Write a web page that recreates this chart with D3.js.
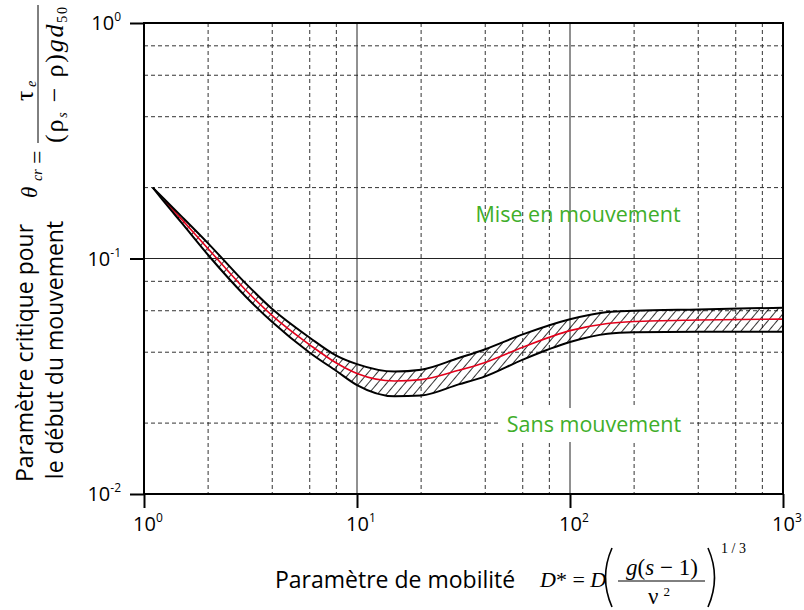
<!DOCTYPE html>
<html>
<head>
<meta charset="utf-8">
<script src="https://cdn.jsdelivr.net/npm/d3@7"></script>
<style>
    body { margin: 0; background: #fff; }
    text { font-family: "Open Sans", sans-serif; }
    .math { font-family: "Liberation Serif", serif; }
</style>
</head>
<body>
<div id="chart-container"></div>
<script>
// D* values shared by the three curves
const dStar = [1.1, 1.25, 1.5, 2, 3, 4, 6, 8, 10, 15, 20, 30, 40, 60, 100, 150, 200, 400, 1000];
const thetaUpper = [0.2, 0.178, 0.151, 0.116, 0.0784, 0.0610, 0.0461, 0.0387, 0.0356, 0.0331, 0.0337, 0.0378, 0.0412, 0.0476, 0.0552, 0.0593, 0.0600, 0.0608, 0.0618];
const thetaLower = [0.2, 0.173, 0.142, 0.1035, 0.0690, 0.0537, 0.0398, 0.0333, 0.0290, 0.0260, 0.0262, 0.0292, 0.0316, 0.0372, 0.0442, 0.0479, 0.0486, 0.0489, 0.0489];
const thetaMid = [null, 0.176, 0.147, 0.110, 0.0735, 0.0572, 0.0430, 0.0360, 0.0325, 0.0302, 0.0306, 0.0335, 0.0362, 0.0420, 0.0494, 0.0530, 0.0540, 0.0548, 0.0553];

const xTicks = [1, 10, 100, 1000];
const xTickExp = ["0", "1", "2", "3"];
const yTicks = [1, 0.1, 0.01];
const yTickExp = ["0", "-1", "-2"];
const minorFactors = [2, 4, 6, 8];

const width = 804, height = 610;
const plotL = 144, plotR = 783, plotT = 23, plotB = 494;

const svg = d3.select("#chart-container")
    .append("svg")
    .attr("width", width)
    .attr("height", height);

const x = d3.scaleLog().domain([1, 1000]).range([plotL, plotR]);
const y = d3.scaleLog().domain([0.01, 1]).range([plotB, plotT]);

const defs = svg.append("defs");
defs.append("pattern")
    .attr("id", "hatch")
    .attr("patternUnits", "userSpaceOnUse")
    .attr("width", 7)
    .attr("height", 7)
    .attr("patternTransform", "rotate(40)")
    .append("line")
    .attr("x1", 3.5).attr("y1", 0)
    .attr("x2", 3.5).attr("y2", 7)
    .attr("stroke", "#000")
    .attr("stroke-width", 0.8);

// minor dashed grid
const xMinor = [];
[1, 10, 100].forEach(b => minorFactors.forEach(f => xMinor.push(b * f)));
const yMinor = [];
[0.01, 0.1].forEach(b => minorFactors.forEach(f => yMinor.push(b * f)));

const grid = svg.append("g");
grid.selectAll(".vminor")
    .data(xMinor)
    .enter().append("line")
    .attr("x1", d => x(d)).attr("x2", d => x(d))
    .attr("y1", plotT).attr("y2", plotB)
    .attr("stroke", "#333")
    .attr("stroke-width", 1)
    .attr("stroke-dasharray", "4,3");

grid.selectAll(".hminor")
    .data(yMinor)
    .enter().append("line")
    .attr("x1", plotL).attr("x2", plotR)
    .attr("y1", d => y(d)).attr("y2", d => y(d))
    .attr("stroke", "#333")
    .attr("stroke-width", 1)
    .attr("stroke-dasharray", "4,3");

// major solid grid
grid.selectAll(".vmajor")
    .data([10, 100])
    .enter().append("line")
    .attr("x1", d => x(d)).attr("x2", d => x(d))
    .attr("y1", plotT).attr("y2", plotB)
    .attr("stroke", "#222")
    .attr("stroke-width", 1);

grid.selectAll(".hmajor")
    .data([0.1])
    .enter().append("line")
    .attr("x1", plotL).attr("x2", plotR)
    .attr("y1", d => y(d)).attr("y2", d => y(d))
    .attr("stroke", "#222")
    .attr("stroke-width", 1);

// white patch behind "Sans mouvement"
svg.append("rect")
    .attr("x", 500).attr("y", 408)
    .attr("width", 188).attr("height", 34)
    .attr("fill", "#fff");

// hatched band
const band = d3.area()
    .x(i => x(dStar[i]))
    .y0(i => y(thetaLower[i]))
    .y1(i => y(thetaUpper[i]))
    .curve(d3.curveMonotoneX);

svg.append("path")
    .attr("d", band(d3.range(dStar.length)))
    .attr("fill", "url(#hatch)");

const curveLine = arr => d3.line()
    .defined(i => arr[i] != null)
    .x(i => x(dStar[i]))
    .y(i => y(arr[i]))
    .curve(d3.curveMonotoneX)(d3.range(dStar.length));

svg.append("path")
    .attr("d", curveLine(thetaMid))
    .attr("fill", "none")
    .attr("stroke", "#e3001b")
    .attr("stroke-width", 1.6);

[thetaUpper, thetaLower].forEach(arr => {
    svg.append("path")
        .attr("d", curveLine(arr))
        .attr("fill", "none")
        .attr("stroke", "#000")
        .attr("stroke-width", 2);
});

// frame
svg.append("rect")
    .attr("x", plotL).attr("y", plotT)
    .attr("width", plotR - plotL).attr("height", plotB - plotT)
    .attr("fill", "none")
    .attr("stroke", "#000")
    .attr("stroke-width", 2);

// axes (ticks only)
svg.append("g")
    .attr("transform", `translate(0,${plotB})`)
    .call(d3.axisBottom(x).tickValues(xTicks).tickSize(14).tickFormat(""))
    .call(g => g.select(".domain").remove())
    .selectAll("line").attr("stroke-width", 2);

svg.append("g")
    .attr("transform", `translate(${plotL},0)`)
    .call(d3.axisLeft(y).tickValues(yTicks).tickSize(14).tickFormat(""))
    .call(g => g.select(".domain").remove())
    .selectAll("line").attr("stroke-width", 2);

// tick labels
xTicks.forEach((v, i) => {
    const t = svg.append("text")
        .attr("x", x(v) - 11)
        .attr("y", 531)
        .attr("font-size", 20);
    t.append("tspan").text("10");
    t.append("tspan").attr("font-size", 12).attr("dy", -9).text(xTickExp[i]);
});

yTicks.forEach((v, i) => {
    const t = svg.append("text")
        .attr("x", 121)
        .attr("y", y(v) + 7)
        .attr("text-anchor", "end")
        .attr("font-size", 20);
    t.append("tspan").text("10");
    t.append("tspan").attr("font-size", 12).attr("dy", -9).text(yTickExp[i]);
});

// region labels
svg.append("text")
    .attr("x", 578).attr("y", 222)
    .attr("text-anchor", "middle")
    .attr("font-size", 21.5)
    .attr("fill", "#3fae2a")
    .text("Mise en mouvement");

svg.append("text")
    .attr("x", 594).attr("y", 432)
    .attr("text-anchor", "middle")
    .attr("font-size", 21.5)
    .attr("fill", "#3fae2a")
    .text("Sans mouvement");

// y axis title
svg.append("text")
    .attr("transform", "translate(33,353) rotate(-90)")
    .attr("text-anchor", "middle")
    .attr("font-size", 23)
    .text("Paramètre critique pour");
svg.append("text")
    .attr("transform", "translate(63,350) rotate(-90)")
    .attr("text-anchor", "middle")
    .attr("font-size", 23)
    .text("le début du mouvement");

// y formula (rotated)
const rot = (sx, sy) => `translate(${sx},${sy}) rotate(-90)`;
svg.append("text").attr("class", "math").attr("transform", rot(37, 198))
    .attr("font-size", 23).attr("font-style", "italic").text("θ");
svg.append("text").attr("class", "math").attr("transform", rot(42, 181))
    .attr("font-size", 14).attr("font-style", "italic").text("cr");
svg.append("text").attr("class", "math").attr("transform", rot(45, 164))
    .attr("font-size", 24).text("=");
svg.append("line")
    .attr("x1", 38).attr("x2", 38).attr("y1", 5).attr("y2", 143)
    .attr("stroke", "#000").attr("stroke-width", 1);
svg.append("text").attr("class", "math").attr("transform", rot(33, 101))
    .attr("font-size", 26).text("τ");
svg.append("text").attr("class", "math").attr("transform", rot(36, 87))
    .attr("font-size", 14).attr("font-style", "italic").text("e");
const den = svg.append("text").attr("class", "math").attr("transform", rot(63, 143))
    .attr("font-size", 26)
    .attr("textLength", 136)
    .attr("lengthAdjust", "spacing");
den.append("tspan").text("(ρ");
den.append("tspan").attr("font-size", 14).attr("font-style", "italic").attr("dy", 4).text("s");
den.append("tspan").attr("dy", -4).text(" − ρ)");
den.append("tspan").attr("font-style", "italic").text("gd");
den.append("tspan").attr("font-size", 14).attr("dy", 4).text("50");

// x axis title
svg.append("text")
    .attr("x", 275).attr("y", 588)
    .attr("font-size", 23)
    .text("Paramètre de mobilité");

const f1 = svg.append("text").attr("class", "math")
    .attr("x", 540).attr("y", 587).attr("font-size", 22);
f1.append("tspan").attr("font-style", "italic").text("D");
f1.append("tspan").text("* = ");
f1.append("tspan").attr("font-style", "italic").text("D");

// big parentheses
svg.append("path")
    .attr("d", "M612,548 Q599,577.5 612,607")
    .attr("fill", "none").attr("stroke", "#000").attr("stroke-width", 1.6);
svg.append("path")
    .attr("d", "M708,548 Q721,577.5 708,607")
    .attr("fill", "none").attr("stroke", "#000").attr("stroke-width", 1.6);

const num = svg.append("text").attr("class", "math")
    .attr("x", 662).attr("y", 575).attr("text-anchor", "middle").attr("font-size", 23);
num.append("tspan").attr("font-style", "italic").text("g");
num.append("tspan").text("(");
num.append("tspan").attr("font-style", "italic").text("s");
num.append("tspan").text(" − 1)");

svg.append("line")
    .attr("x1", 618).attr("x2", 705).attr("y1", 581).attr("y2", 581)
    .attr("stroke", "#000").attr("stroke-width", 1);

const dnm = svg.append("text").attr("class", "math")
    .attr("x", 648).attr("y", 604).attr("font-size", 23);
dnm.append("tspan").text("ν");
dnm.append("tspan").attr("font-size", 13).attr("dx", 5).attr("dy", -8).text("2");

svg.append("text").attr("class", "math")
    .attr("x", 721).attr("y", 553).attr("font-size", 14).text("1 / 3");
</script>
</body>
</html>
